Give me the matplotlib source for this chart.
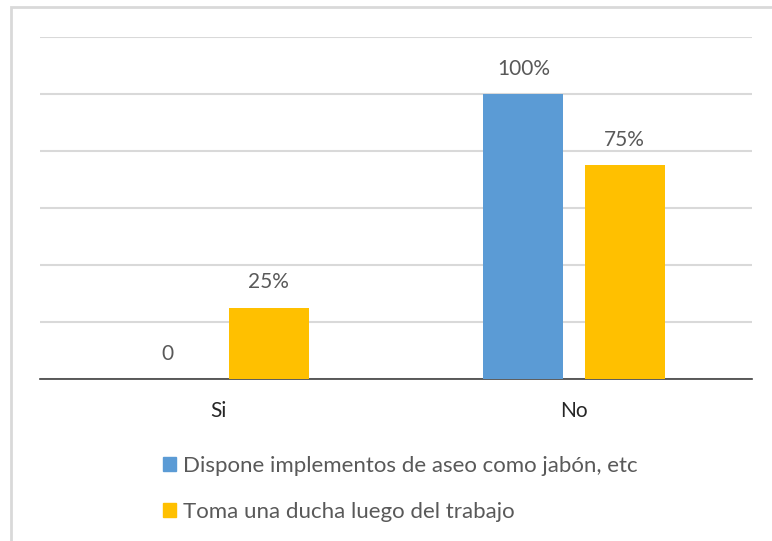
import matplotlib
matplotlib.use("Agg")
import matplotlib.pyplot as plt
from matplotlib.patches import Rectangle, Patch
import numpy as np

# datos
categorias = ["Si", "No"]
series = ["Dispone implementos de aseo como jabón, etc",
          "Toma una ducha luego del trabajo"]
valores_jabon = [0.0, 1.0]
valores_ducha = [0.25, 0.75]
etiquetas_jabon = ["0", "100%"]
etiquetas_ducha = ["25%", "75%"]

AZUL = "#5b9bd5"
AMARILLO = "#ffc000"
GRIS_TXT = "#595959"

plt.rcParams['font.family'] = ['Lato', 'DejaVu Sans']

fig = plt.figure(figsize=(7.72, 5.41), dpi=100)
ax = fig.add_axes([40 / 772, 1 - 379 / 541, 712 / 772, 342 / 541])

# marco del gráfico
fig.patches.append(Rectangle((11 / 772, -0.1), 1.2, (541 - 7) / 541 + 0.1,
                             transform=fig.transFigure, fill=False,
                             edgecolor="#d9d9d9", linewidth=2))

x = np.arange(len(categorias))
ancho = 0.225
desp = 0.142
b1 = ax.bar(x - desp, valores_jabon, ancho, color=AZUL, zorder=3, label=series[0])
b2 = ax.bar(x + desp, valores_ducha, ancho, color=AMARILLO, zorder=3, label=series[1])

for barras, etiquetas in ((b1, etiquetas_jabon), (b2, etiquetas_ducha)):
    for b, t in zip(barras, etiquetas):
        ax.annotate(t, (b.get_x() + b.get_width() / 2, b.get_height()),
                    xytext=(0, 11), textcoords="offset points",
                    ha="center", va="bottom", fontsize=15, color=GRIS_TXT)

ax.set_xlim(-0.5, 1.5)
ax.set_ylim(0, 1.2)
ax.set_yticks(np.arange(0, 1.21, 0.2))
ax.yaxis.grid(True, color="#d9d9d9", linewidth=1.5, zorder=0)
ax.tick_params(axis="y", left=False, labelleft=False)
ax.tick_params(axis="x", bottom=False, labelsize=15, labelcolor="#262626", pad=12)
ax.set_xticks(x)
ax.set_xticklabels(categorias)
for s in ("top", "right", "left"):
    ax.spines[s].set_visible(False)
ax.spines["bottom"].set_color("#404040")
ax.spines["bottom"].set_linewidth(1.2)

handles = [Patch(color=AZUL), Patch(color=AMARILLO)]
leg = fig.legend(handles, series, loc="upper left",
                 bbox_to_anchor=(143 / 772, 1 - 436 / 541),
                 frameon=False, fontsize=16, handlelength=0.6, handleheight=0.6,
                 handletextpad=0.3, labelspacing=1.18, labelcolor=GRIS_TXT)

fig.savefig("out.png", dpi=100)
